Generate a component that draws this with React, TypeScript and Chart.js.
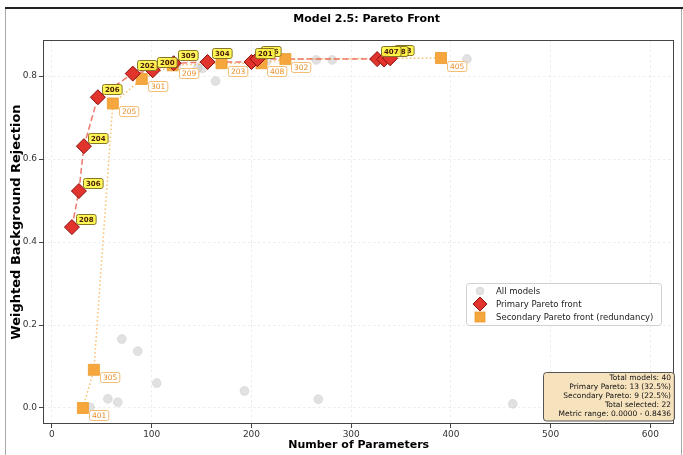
import React, { useEffect, useRef } from 'react';
import { Chart, registerables } from 'chart.js';
Chart.register(...registerables);

// ---- data ----
const primaryX = [20, 27, 32, 46, 81, 101, 122, 156, 200, 206, 326, 333, 339];
const primaryY = [0.436, 0.523, 0.631, 0.749, 0.806, 0.814, 0.831, 0.834, 0.834, 0.841, 0.841, 0.840, 0.843];
const primaryLabels = ['208', '306', '204', '206', '202', '200', '309', '304', '201', '406', '407', '308', '403'];

const secondaryX = [31, 42, 61, 90, 121, 170, 210, 234, 390];
const secondaryY = [0.0, 0.092, 0.734, 0.793, 0.826, 0.831, 0.831, 0.841, 0.8436];
const secondaryLabels = ['401', '305', '205', '301', '209', '203', '408', '302', '405'];

const otherX = [38, 56, 66, 70, 86, 105, 193, 267, 462, 164, 146, 151, 265, 281, 416, 91, 125, 215];
const otherY = [0.002, 0.022, 0.014, 0.166, 0.137, 0.060, 0.041, 0.021, 0.010, 0.788, 0.819, 0.819, 0.839, 0.839, 0.841, 0.822, 0.825, 0.836];

const xTicks = [0, 100, 200, 300, 400, 500, 600];
const yTicks = [0.0, 0.2, 0.4, 0.6, 0.8];

const titleText = 'Model 2.5: Pareto Front';
const xTitle = 'Number of Parameters';
const yTitle = 'Weighted Background Rejection';
const legendLabels = ['All models', 'Primary Pareto front', 'Secondary Pareto front (redundancy)'];
const infoLines = [
  'Total models: 40',
  'Primary Pareto: 13 (32.5%)',
  'Secondary Pareto: 9 (22.5%)',
  'Total selected: 22',
  'Metric range: 0.0000 - 0.8436',
];

const FONT = "'DejaVu Sans', sans-serif";
const RED = '#e0342c';
const RED_EDGE = '#8b0f0f';
const ORANGE = '#f5a73e';
const ORANGE_EDGE = '#eb9a2c';
const GRAY = 'rgba(200,200,200,0.55)';
const GRAY_EDGE = 'rgba(185,185,185,0.55)';

const pts = (xs: number[], ys: number[]) => xs.map((x, i) => ({ x, y: ys[i] }));

function roundRect(ctx: CanvasRenderingContext2D, x: number, y: number, w: number, h: number, r: number) {
  ctx.beginPath();
  ctx.moveTo(x + r, y);
  ctx.lineTo(x + w - r, y);
  ctx.arcTo(x + w, y, x + w, y + r, r);
  ctx.lineTo(x + w, y + h - r);
  ctx.arcTo(x + w, y + h, x + w - r, y + h, r);
  ctx.lineTo(x + r, y + h);
  ctx.arcTo(x, y + h, x, y + h - r, r);
  ctx.lineTo(x, y + r);
  ctx.arcTo(x, y, x + r, y, r);
  ctx.closePath();
}

const framePlugin = {
  id: 'frame',
  beforeDraw(chart: any) {
    const ctx = chart.ctx as CanvasRenderingContext2D;
    ctx.save();
    ctx.fillStyle = '#ffffff';
    ctx.fillRect(0, 0, chart.width, chart.height);
    ctx.strokeStyle = '#aaaaaa';
    ctx.lineWidth = 1;
    ctx.beginPath();
    ctx.moveTo(5.5, 8);
    ctx.lineTo(5.5, chart.height);
    ctx.moveTo(681.5, 8);
    ctx.lineTo(681.5, chart.height);
    ctx.stroke();
    ctx.strokeStyle = '#222222';
    ctx.lineWidth = 2;
    ctx.beginPath();
    ctx.moveTo(5, 8);
    ctx.lineTo(chart.width, 8);
    ctx.stroke();
    ctx.restore();
  },
  afterDraw(chart: any) {
    const ctx = chart.ctx as CanvasRenderingContext2D;
    const a = chart.chartArea;
    ctx.save();
    // spines
    ctx.strokeStyle = '#444444';
    ctx.lineWidth = 1;
    ctx.strokeRect(Math.round(a.left) + 0.5, Math.round(a.top) + 0.5, Math.round(a.right - a.left) - 1, Math.round(a.bottom - a.top) - 1);
    // titles
    const cx = (a.left + a.right) / 2;
    const cy = (a.top + a.bottom) / 2;
    ctx.fillStyle = '#000000';
    ctx.textAlign = 'center';
    ctx.textBaseline = 'middle';
    ctx.font = `bold 11px ${FONT}`;
    ctx.fillText(titleText, cx + 8, 19);
    ctx.font = `bold 11px ${FONT}`;
    ctx.fillText(xTitle, cx, 445);
    ctx.save();
    ctx.translate(17, cy - 10);
    ctx.rotate(-Math.PI / 2);
    ctx.font = `bold 13px ${FONT}`;
    ctx.fillText(yTitle, 0, 0);
    ctx.restore();

    // legend
    const lx = 466.5, ly = 283.5, lw = 195, lh = 42;
    ctx.fillStyle = 'rgba(255,255,255,0.85)';
    roundRect(ctx, lx, ly, lw, lh, 3);
    ctx.fill();
    ctx.strokeStyle = '#d0d0d0';
    ctx.lineWidth = 1;
    ctx.stroke();
    const rows = [291, 304, 317];
    // gray circle
    ctx.beginPath();
    ctx.arc(480, rows[0], 4, 0, Math.PI * 2);
    ctx.fillStyle = GRAY;
    ctx.fill();
    ctx.strokeStyle = GRAY_EDGE;
    ctx.lineWidth = 0.5;
    ctx.stroke();
    // diamond
    ctx.beginPath();
    ctx.moveTo(480, rows[1] - 7);
    ctx.lineTo(487, rows[1]);
    ctx.lineTo(480, rows[1] + 7);
    ctx.lineTo(473, rows[1]);
    ctx.closePath();
    ctx.fillStyle = RED;
    ctx.fill();
    ctx.strokeStyle = RED_EDGE;
    ctx.lineWidth = 1;
    ctx.stroke();
    // square
    ctx.fillStyle = ORANGE;
    ctx.fillRect(475, rows[2] - 5, 10, 10);
    ctx.strokeStyle = ORANGE_EDGE;
    ctx.lineWidth = 0.8;
    ctx.strokeRect(475, rows[2] - 5, 10, 10);
    ctx.fillStyle = '#222222';
    ctx.textAlign = 'left';
    ctx.textBaseline = 'middle';
    ctx.font = `8.5px ${FONT}`;
    legendLabels.forEach((t, i) => ctx.fillText(t, 496, rows[i] + 0.5));

    // info box
    const bx = 543.5, by = 372.5, bw = 131, bh = 48.5;
    ctx.fillStyle = 'rgba(245,222,179,0.85)';
    roundRect(ctx, bx, by, bw, bh, 3);
    ctx.fill();
    ctx.strokeStyle = '#555555';
    ctx.lineWidth = 1;
    ctx.stroke();
    ctx.fillStyle = '#111111';
    ctx.textAlign = 'right';
    ctx.font = `7.5px ${FONT}`;
    infoLines.forEach((t, i) => ctx.fillText(t, bx + bw - 3.5, by + 6 + i * 8.8));
    ctx.restore();
  },
};

function drawLabel(ctx: CanvasRenderingContext2D, text: string, left: number, cy: number, fill: string, stroke: string, color: string, font: string) {
  ctx.font = font;
  const tw = ctx.measureText(text).width;
  const w = tw + 5;
  const h = 10;
  roundRect(ctx, Math.round(left) + 0.5, Math.round(cy - h / 2) + 0.5, w, h, 2);
  ctx.fillStyle = fill;
  ctx.fill();
  ctx.strokeStyle = stroke;
  ctx.lineWidth = 1;
  ctx.stroke();
  ctx.fillStyle = color;
  ctx.textAlign = 'center';
  ctx.textBaseline = 'middle';
  ctx.fillText(text, Math.round(left) + 0.5 + w / 2, Math.round(cy - h / 2) + 0.5 + h / 2 + 0.5);
}

const labelPlugin = {
  id: 'pointLabels',
  afterDatasetsDraw(chart: any) {
    const ctx = chart.ctx as CanvasRenderingContext2D;
    const xs = chart.scales.x;
    const ys = chart.scales.y;
    ctx.save();
    secondaryLabels.forEach((t, i) => {
      const px = xs.getPixelForValue(secondaryX[i]);
      const py = ys.getPixelForValue(secondaryY[i]);
      drawLabel(ctx, t, px + 6, py + 7.5, 'rgba(255,255,255,0.85)', '#f4bd74', '#e8902a', `7.5px ${FONT}`);
    });
    for (let i = primaryLabels.length - 1; i >= 0; i--) {
      const px = xs.getPixelForValue(primaryX[i]);
      const py = ys.getPixelForValue(primaryY[i]);
      drawLabel(ctx, primaryLabels[i], px + 4, py - 8.5, 'rgba(255,248,70,0.9)', '#8a7426', '#4a1a08', `bold 7px ${FONT}`);
    }
    ctx.restore();
  },
};

export default function App() {
  const ref = useRef<HTMLCanvasElement>(null);
  useEffect(() => {
    document.body.style.margin = '0';
    const canvas = ref.current!;
    const tickFont = { family: FONT, size: 9 };
    const chart = new Chart(canvas, {
      type: 'scatter',
      data: {
        datasets: [
          {
            label: 'Primary Pareto front',
            data: pts(primaryX, primaryY),
            pointStyle: 'rectRot',
            pointRadius: 7.5,
            backgroundColor: RED,
            borderColor: RED_EDGE,
            borderWidth: 1,
            order: 1,
          },
          {
            label: 'Secondary Pareto front (redundancy)',
            data: pts(secondaryX, secondaryY),
            pointStyle: 'rect',
            pointRadius: 7.8,
            backgroundColor: ORANGE,
            borderColor: ORANGE_EDGE,
            borderWidth: 0.8,
            order: 2,
          },
          {
            label: 'primary line',
            data: pts(primaryX, primaryY),
            showLine: true,
            pointRadius: 0,
            borderColor: 'rgba(231,76,60,0.75)',
            borderWidth: 1.5,
            borderDash: [6, 3],
            order: 3,
          } as any,
          {
            label: 'secondary line',
            data: pts(secondaryX, secondaryY),
            showLine: true,
            pointRadius: 0,
            borderColor: 'rgba(245,170,60,0.75)',
            borderWidth: 1.5,
            borderDash: [1.5, 2.5],
            order: 4,
          } as any,
          {
            label: 'All models',
            data: pts(otherX.concat(primaryX, secondaryX), otherY.concat(primaryY, secondaryY)),
            pointStyle: 'circle',
            pointRadius: 4.5,
            backgroundColor: GRAY,
            borderColor: GRAY_EDGE,
            borderWidth: 0.5,
            order: 5,
          },
        ],
      },
      options: {
        responsive: false,
        animation: false,
        devicePixelRatio: 1,
        layout: { padding: { top: 40, right: 6, left: 0, bottom: 0 } },
        plugins: { legend: { display: false }, tooltip: { enabled: false }, title: { display: false } },
        scales: {
          x: {
            type: 'linear',
            min: -9,
            max: 624,
            afterBuildTicks: (s: any) => { s.ticks = xTicks.map((v) => ({ value: v })); },
            afterFit: (s: any) => { s.height = 31; },
            ticks: { font: tickFont, color: '#333333', padding: 1, maxRotation: 0, autoSkip: false, callback: (v: any) => String(v) },
            grid: { color: 'rgba(0,0,0,0.09)', lineWidth: 0.8, tickColor: '#444444', tickLength: 4, tickBorderDash: [], tickWidth: 1 },
            border: { display: false, dash: [2.5, 2.5] },
          },
          y: {
            type: 'linear',
            min: -0.0386,
            max: 0.887,
            afterBuildTicks: (s: any) => { s.ticks = yTicks.map((v) => ({ value: v })); },
            afterFit: (s: any) => { s.width = 43; },
            ticks: { font: tickFont, color: '#333333', padding: 2, autoSkip: false, callback: (v: any) => Number(v).toFixed(1) },
            grid: { color: 'rgba(0,0,0,0.09)', lineWidth: 0.8, tickColor: '#444444', tickLength: 4, tickBorderDash: [], tickWidth: 1 },
            border: { display: false, dash: [2.5, 2.5] },
          },
        },
      } as any,
      plugins: [framePlugin, labelPlugin],
    });
    return () => chart.destroy();
  }, []);
  return (
    <div style={{ width: 683, height: 455, position: 'relative' }}>
      <canvas ref={ref} width={683} height={455} style={{ display: 'block' }} />
    </div>
  );
}
